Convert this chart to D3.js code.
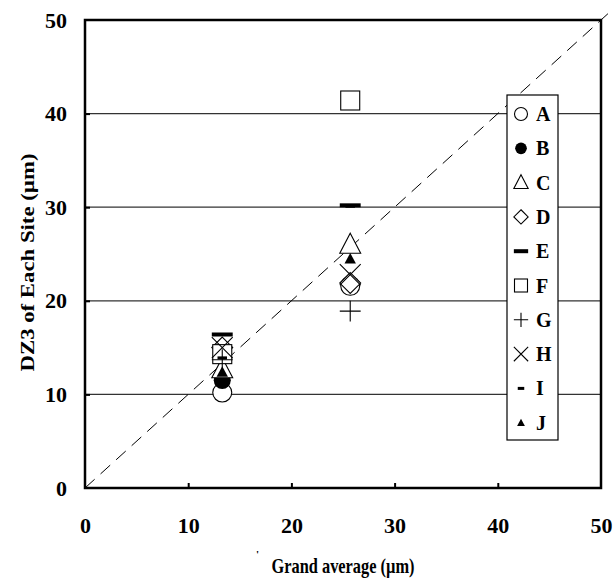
<!DOCTYPE html>
<html>
<head>
<meta charset="utf-8">
<script src="https://cdn.jsdelivr.net/npm/d3@7"></script>
<style>
  body { margin: 0; background: #fff; }
  text { font-family: "Liberation Serif", "Times New Roman", serif; font-weight: bold; }
</style>
</head>
<body>
<div id="chart"></div>
<script>
// data
const SITES = ["A", "B", "C", "D", "E", "F", "G", "H", "I", "J"];
const GRAND_AVG = [13.3, 25.7];
const VAL_LOW = [10.2, 11.5, 12.7, 15.0, 16.4, 14.3, 13.7, 15.0, 13.9, 12.4];
const VAL_HIGH = [21.6, null, 26.0, 21.9, 30.2, 41.4, 18.9, 22.8, 30.1, 24.5];
const TICKS = [0, 10, 20, 30, 40, 50];

const W = 613, H = 581;
const M = { top: 20, right: 12, bottom: 93, left: 85 };

const svg = d3.select("#chart").append("svg").attr("width", W).attr("height", H);

const x = d3.scaleLinear().domain([0, 50]).range([M.left, W - M.right]);
const y = d3.scaleLinear().domain([0, 50]).range([H - M.bottom, M.top]);

// grid lines
svg.append("g").selectAll("line")
  .data(TICKS.filter(t => t > 0 && t < 50))
  .join("line")
  .attr("x1", x(0)).attr("x2", x(50))
  .attr("y1", d => y(d)).attr("y2", d => y(d))
  .attr("stroke", "#333").attr("stroke-width", 1.2);

// 1:1 line
svg.append("line")
  .attr("x1", x(0)).attr("y1", y(0))
  .attr("x2", x(50.8)).attr("y2", y(50.8))
  .attr("stroke", "#000").attr("stroke-width", 1)
  .attr("stroke-dasharray", "13,8");

// axes
const xAxis = d3.axisBottom(x).tickValues(TICKS).tickSize(-5).tickPadding(29);
const yAxis = d3.axisLeft(y).tickValues(TICKS).tickSize(-5).tickPadding(18);

const gx = svg.append("g").attr("transform", `translate(0,${y(0)})`).call(xAxis);
const gy = svg.append("g").attr("transform", `translate(${x(0)},0)`).call(yAxis);
[gx, gy].forEach(g => {
  g.select(".domain").remove();
  g.selectAll(".tick line").attr("stroke", "#000").attr("stroke-width", 2);
  g.selectAll(".tick text").attr("fill", "#000").style("font-size", "22px")
    .style("font-family", "'Liberation Serif', serif").style("font-weight", "bold");
});
gx.selectAll(".tick line").filter(d => d === 0 || d === 50).remove();
gy.selectAll(".tick line").filter(d => d === 0 || d === 50).remove();

// frame
svg.append("rect")
  .attr("x", x(0)).attr("y", y(50))
  .attr("width", x(50) - x(0)).attr("height", y(0) - y(50))
  .attr("fill", "none").attr("stroke", "#000").attr("stroke-width", 2.5);

// symbols
function drawMark(g, site, s) {
  const sw = 1.1;
  if (site === "A") {
    g.append("circle").attr("r", s * 0.5).attr("fill", "#fff").attr("stroke", "#000").attr("stroke-width", sw);
  } else if (site === "B") {
    g.append("circle").attr("r", s * 0.45).attr("fill", "#000");
  } else if (site === "C") {
    g.append("path").attr("d", `M0,${-s * 0.6}L${s * 0.55},${s * 0.45}L${-s * 0.55},${s * 0.45}Z`)
      .attr("fill", "#fff").attr("stroke", "#000").attr("stroke-width", sw);
  } else if (site === "D") {
    g.append("path").attr("d", `M0,${-s * 0.55}L${s * 0.55},0L0,${s * 0.55}L${-s * 0.55},0Z`)
      .attr("fill", "#fff").attr("stroke", "#000").attr("stroke-width", sw);
  } else if (site === "E") {
    g.append("rect").attr("x", -s * 0.55).attr("y", -2).attr("width", s * 1.1).attr("height", 4).attr("fill", "#000");
  } else if (site === "F") {
    g.append("rect").attr("x", -s * 0.5).attr("y", -s * 0.5).attr("width", s).attr("height", s)
      .attr("fill", "#fff").attr("stroke", "#000").attr("stroke-width", sw);
  } else if (site === "G") {
    g.append("path").attr("d", `M${-s * 0.55},0H${s * 0.55}M0,${-s * 0.55}V${s * 0.55}`)
      .attr("stroke", "#000").attr("stroke-width", sw);
  } else if (site === "H") {
    g.append("path").attr("d", `M${-s * 0.55},${-s * 0.55}L${s * 0.55},${s * 0.55}M${s * 0.55},${-s * 0.55}L${-s * 0.55},${s * 0.55}`)
      .attr("stroke", "#000").attr("stroke-width", sw);
  } else if (site === "I") {
    g.append("rect").attr("x", -s * 0.25).attr("y", -1.5).attr("width", s * 0.5).attr("height", 3).attr("fill", "#000");
  } else if (site === "J") {
    g.append("path").attr("d", `M0,${-s * 0.3}L${s * 0.3},${s * 0.25}L${-s * 0.3},${s * 0.25}Z`).attr("fill", "#000");
  }
}

const points = [];
SITES.forEach((s, i) => {
  points.push({ site: s, gx: GRAND_AVG[0], v: VAL_LOW[i] });
  if (VAL_HIGH[i] != null) points.push({ site: s, gx: GRAND_AVG[1], v: VAL_HIGH[i] });
});

const plotG = svg.append("g");
plotG.selectAll("g").data(points).join("g")
  .attr("transform", d => `translate(${x(d.gx)},${y(d.v)})`)
  .each(function (d) { drawMark(d3.select(this), d.site, 19); });

// legend
const lg = svg.append("g").attr("transform", "translate(507,95)");
lg.append("rect").attr("width", 51).attr("height", 345)
  .attr("fill", "#fff").attr("stroke", "#000").attr("stroke-width", 1.2);
const rows = lg.selectAll("g.row").data(SITES).join("g").attr("class", "row")
  .attr("transform", (d, i) => `translate(0,${19 + i * 34.3})`);
rows.each(function (d) {
  const g = d3.select(this).append("g").attr("transform", "translate(14,0)");
  drawMark(g, d, 13);
});
rows.append("text").attr("x", 29).attr("y", 7).style("font-size", "20px").attr("fill", "#000").text(d => d);

// axis titles
svg.append("text")
  .attr("transform", `translate(34,${(152 + 373) / 2}) rotate(-90)`)
  .attr("text-anchor", "middle").style("font-size", "18px")
  .attr("textLength", 218).attr("lengthAdjust", "spacingAndGlyphs")
  .text("DZ3 of Each Site (µm)");
svg.append("text")
  .attr("x", 343).attr("y", 573).attr("text-anchor", "middle")
  .style("font-size", "21px")
  .attr("textLength", 143).attr("lengthAdjust", "spacingAndGlyphs")
  .text("Grand average (µm)");
svg.append("text").attr("x", 256).attr("y", 558).style("font-size", "11px").text("'");
</script>
</body>
</html>
